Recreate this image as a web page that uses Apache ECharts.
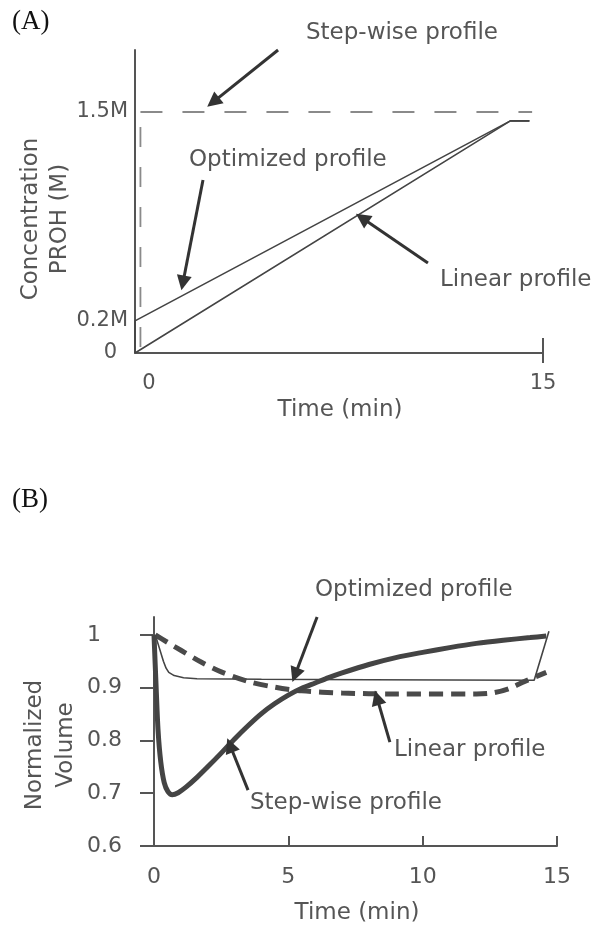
<!DOCTYPE html>
<html>
<head>
<meta charset="utf-8">
<script src="https://cdn.jsdelivr.net/npm/echarts@6/dist/echarts.min.js"></script>
<style>
html,body{margin:0;padding:0;background:#fff;}
#chart{width:594px;height:926px;}
</style>
</head>
<body>
<div id="chart"></div>
<script>
// ---------- Panel A data ----------
const aTicksX = [0, 15];
const aTicksY = [0, 0.2, 1.5];
const aStepVertical = [[0.2, 1.5], [0.2, 0]];
const aStepHorizontal = [[0.2, 1.5], [14.6, 1.5]];
const aLinear = [[0, 0], [13.8, 1.445], [14.5, 1.445]];
const aOptimized = [[0, 0], [0, 0.2], [13.8, 1.445], [14.5, 1.445]];
// arrows panel A: [from, to]
const aArrowStep = [[5.26, 1.886], [2.87, 1.562]];
const aArrowOpt = [[2.5, 1.077], [1.76, 0.436]];
const aArrowLin = [[10.77, 0.56], [8.35, 0.84]];

// ---------- Panel B data ----------
const bTicksX = [0, 5, 10, 15];
const bTicksY = [0.6, 0.7, 0.8, 0.9, 1.0];
const bStepwise = [[0, 1.0], [0.08, 0.9], [0.15, 0.82], [0.25, 0.76], [0.38, 0.72], [0.52, 0.703], [0.68, 0.697],
  [0.9, 0.701], [1.2, 0.712], [1.6, 0.73], [2.0, 0.75], [2.5, 0.776], [3.0, 0.803], [3.5, 0.828], [4.0, 0.851],
  [4.5, 0.87], [5.0, 0.886], [5.5, 0.899], [6.0, 0.909], [6.5, 0.919], [7.0, 0.928], [8.0, 0.944], [9.0, 0.957],
  [10.0, 0.967], [11.0, 0.976], [12.0, 0.984], [13.0, 0.99], [14.0, 0.995], [14.6, 0.998]];
const bLinear = [[0.05, 1.0], [0.5, 0.986], [1.0, 0.971], [1.7, 0.95], [2.5, 0.93], [3.5, 0.912], [4.5, 0.901],
  [5.5, 0.894], [7.0, 0.89], [9.0, 0.888], [12.0, 0.888], [12.6, 0.89], [13.2, 0.898], [13.8, 0.912], [14.6, 0.929]];
const bOptimized = [[0.05, 1.0], [0.2, 0.975], [0.35, 0.95], [0.45, 0.937], [0.55, 0.929], [0.75, 0.923],
  [1.1, 0.919], [1.6, 0.917], [4, 0.916], [8, 0.915], [14.15, 0.914], [14.7, 1.007]];
const bArrowOpt = [[6.07, 1.034], [5.25, 0.924]];
const bArrowLin = [[8.78, 0.797], [8.3, 0.881]];
const bArrowStep = [[3.5, 0.706], [2.83, 0.791]];

const FONT = 'DejaVu Sans';
const TXT = '#555';
const LINE = '#444';
const AX = '#555';

function arrowML(list) {
  return {
    silent: true,
    symbol: ['none', 'triangle'],
    symbolSize: 15,
    label: {show: false},
    lineStyle: {color: '#333', width: 3, type: 'solid'},
    data: list.map(a => [{coord: a[0]}, {coord: a[1]}])
  };
}

function txt(text, x, y, opts) {
  opts = opts || {};
  return {
    type: 'text', x: x, y: y, rotation: opts.rot || 0, silent: true,
    style: {
      text: text, fill: opts.fill || TXT,
      font: (opts.size || 23) + 'px ' + (opts.family || FONT),
      align: opts.align || 'left', verticalAlign: 'middle',
      lineHeight: opts.lh || 30
    }
  };
}

const chart = echarts.init(document.getElementById('chart'), null, {renderer: 'canvas'});
const option = {
  animation: false,
  backgroundColor: '#fff',
  grid: [
    {left: 135, right: 51, top: 50, bottom: 573},
    {left: 154, right: 37, top: 617, bottom: 80}
  ],
  xAxis: [
    {
      type: 'value', gridIndex: 0, min: 0, max: 15,
      axisLine: {lineStyle: {color: AX, width: 2}},
      axisTick: {show: true, customValues: [15], length: 10, lineStyle: {color: AX, width: 2}},
      splitLine: {show: false},
      axisLabel: {
        customValues: aTicksX, margin: 20, color: TXT, fontFamily: FONT, fontSize: 21,
        formatter: v => v === 0 ? '{z|0}' : String(v),
        rich: {z: {padding: [0, 0, 0, 28], color: TXT, fontFamily: FONT, fontSize: 21}}
      }
    },
    {
      type: 'value', gridIndex: 0, min: 0, max: 15, position: 'bottom',
      axisLine: {show: false},
      axisTick: {show: true, inside: true, customValues: [15], length: 15, lineStyle: {color: AX, width: 2}},
      axisLabel: {show: false}, splitLine: {show: false}
    },
    {
      type: 'value', gridIndex: 1, min: 0, max: 15,
      axisLine: {lineStyle: {color: AX, width: 2}},
      axisTick: {show: true, inside: true, customValues: [5, 10, 15], length: 10, lineStyle: {color: AX, width: 2}},
      splitLine: {show: false},
      axisLabel: {customValues: bTicksX, margin: 20, color: TXT, fontFamily: FONT, fontSize: 22}
    }
  ],
  yAxis: [
    {
      type: 'value', gridIndex: 0, min: 0, max: 1.886,
      axisLine: {show: true, lineStyle: {color: AX, width: 2}},
      axisTick: {show: false},
      splitLine: {show: false},
      axisLabel: {
        customValues: aTicksY, margin: 7, color: TXT, fontFamily: FONT, fontSize: 21,
        formatter: v => v === 0 ? '{z|0}' : v + 'M',
        rich: {z: {padding: [0, 11, 0, 0], color: TXT, fontFamily: FONT, fontSize: 21}}
      }
    },
    {
      type: 'value', gridIndex: 1, min: 0.6, max: 1.034,
      axisLine: {show: true, lineStyle: {color: AX, width: 2}},
      axisTick: {show: true, customValues: bTicksY, length: 14, lineStyle: {color: AX, width: 2}},
      splitLine: {show: false},
      axisLabel: {
        customValues: bTicksY, margin: 67, align: 'left', color: TXT, fontFamily: FONT, fontSize: 22,
        formatter: v => v === 1 ? '1' : v.toFixed(1)
      }
    }
  ],
  series: [
    {name: 'Step-wise profile', type: 'line', xAxisIndex: 0, yAxisIndex: 0, data: aStepVertical, symbol: 'none',
      lineStyle: {color: '#8a8a8a', width: 1.8, type: [20, 20], dashOffset: -15}},
    {name: 'Step-wise profile', type: 'line', xAxisIndex: 0, yAxisIndex: 0, data: aStepHorizontal, symbol: 'none',
      lineStyle: {color: '#8a8a8a', width: 1.8, type: [22, 20]}},
    {name: 'Optimized profile', type: 'line', xAxisIndex: 0, yAxisIndex: 0, data: aOptimized, symbol: 'none',
      lineStyle: {color: LINE, width: 1.6}},
    {name: 'Linear profile', type: 'line', xAxisIndex: 0, yAxisIndex: 0, data: aLinear, symbol: 'none', clip: false,
      lineStyle: {color: LINE, width: 1.6},
      markLine: arrowML([aArrowStep, aArrowOpt, aArrowLin])},

    {name: 'Optimized profile B', type: 'line', xAxisIndex: 2, yAxisIndex: 1, data: bOptimized, symbol: 'none', clip: false,
      lineStyle: {color: LINE, width: 1.6}},
    {name: 'Linear profile B', type: 'line', xAxisIndex: 2, yAxisIndex: 1, data: bLinear, symbol: 'none', clip: false,
      smooth: 0.3,
      lineStyle: {color: '#4a4a4a', width: 5, type: [14, 8], cap: 'butt'}},
    {name: 'Step-wise profile B', type: 'line', xAxisIndex: 2, yAxisIndex: 1, data: bStepwise, symbol: 'none', clip: false,
      smooth: 0.3,
      lineStyle: {color: LINE, width: 5},
      markLine: arrowML([bArrowOpt, bArrowLin, bArrowStep])}
  ],
  graphic: [
    txt('(A)', 12, 22, {family: '"Liberation Serif", serif', size: 27, fill: '#111'}),
    txt('(B)', 12, 500, {family: '"Liberation Serif", serif', size: 27, fill: '#111'}),
    txt('Step-wise profile', 306, 33),
    txt('Optimized profile', 189, 160),
    txt('Linear profile', 440, 280),
    txt('Time (min)', 340, 410, {align: 'center'}),
    txt('Concentration\nPROH (M)', 46, 219, {align: 'center', rot: Math.PI / 2, lh: 29}),
    txt('Optimized profile', 315, 590),
    txt('Linear profile', 394, 750),
    txt('Step-wise profile', 250, 803),
    txt('Time (min)', 357, 913, {align: 'center'}),
    txt('Normalized\nVolume', 51, 745, {align: 'center', rot: Math.PI / 2, lh: 31})
  ]
};
chart.setOption(option);
</script>
</body>
</html>
